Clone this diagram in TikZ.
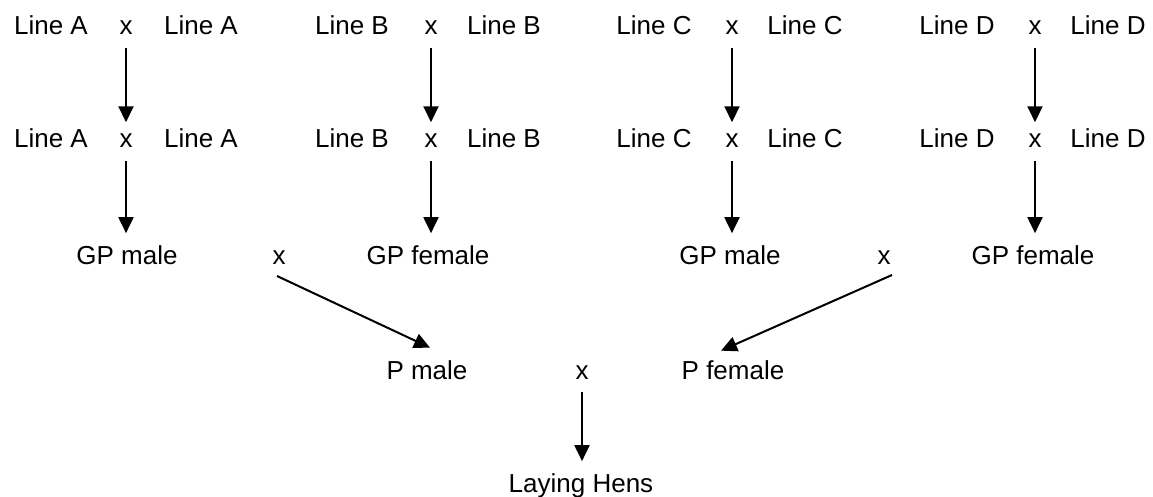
\documentclass[tikz,border=0pt]{standalone}
\usepackage{fontspec}
\setmainfont{Liberation Sans}
\usetikzlibrary{arrows.meta,calc}
\begin{document}
\begin{tikzpicture}[x=1pt,y=-1pt,
  lbl/.style={anchor=base,inner sep=0pt,outer sep=0pt,
              font=\fontsize{26pt}{30pt}\selectfont},
  arr/.style={line width=2pt,-{Triangle[length=16pt,width=15pt]}},
  varr/.style={arr,shorten <=13pt,shorten >=12pt}]
\useasboundingbox (0,0) rectangle (1153,497);

% pure lines, first generation
\node[lbl] (a1l) at (51,35)   {Line A};
\node[lbl] (a1x) at (126,35)  {x};
\node[lbl] (a1r) at (201,35)  {Line A};
\node[lbl] (b1l) at (352,35)  {Line B};
\node[lbl] (b1x) at (431,35)  {x};
\node[lbl] (b1r) at (504,35)  {Line B};
\node[lbl] (c1l) at (654,35)  {Line C};
\node[lbl] (c1x) at (732,35)  {x};
\node[lbl] (c1r) at (805,35)  {Line C};
\node[lbl] (d1l) at (957,35)  {Line D};
\node[lbl] (d1x) at (1035,35) {x};
\node[lbl] (d1r) at (1108,35) {Line D};

% pure lines, next generation
\node[lbl] (a2l) at (51,148)   {Line A};
\node[lbl] (a2x) at (126,148)  {x};
\node[lbl] (a2r) at (201,148)  {Line A};
\node[lbl] (b2l) at (352,148)  {Line B};
\node[lbl] (b2x) at (431,148)  {x};
\node[lbl] (b2r) at (504,148)  {Line B};
\node[lbl] (c2l) at (654,148)  {Line C};
\node[lbl] (c2x) at (732,148)  {x};
\node[lbl] (c2r) at (805,148)  {Line C};
\node[lbl] (d2l) at (957,148)  {Line D};
\node[lbl] (d2x) at (1035,148) {x};
\node[lbl] (d2r) at (1108,148) {Line D};

% grandparents
\node[lbl] (gpm1) at (127,264)  {GP male};
\node[lbl] (gx1)  at (279,264)  {x};
\node[lbl] (gpf1) at (428,264)  {GP female};
\node[lbl] (gpm2) at (730,264)  {GP male};
\node[lbl] (gx2)  at (884,264)  {x};
\node[lbl] (gpf2) at (1033,264) {GP female};

% parents
\node[lbl] (pm) at (427,379) {P male};
\node[lbl] (px) at (582,379) {x};
\node[lbl] (pf) at (733,379) {P female};

% commercial layers
\node[lbl] (lh) at (581,492) {Laying Hens};

% generation to generation
\foreach \s/\t in {a1x/a2x,b1x/b2x,c1x/c2x,d1x/d2x}
  \draw[varr] (\s.south) -- (\t.north);
\draw[varr] (a2x.south) -- (a2x.south |- gpm1.north);
\draw[varr] (b2x.south) -- (b2x.south |- gpf1.north);
\draw[varr] (c2x.south) -- (c2x.south |- gpm2.north);
\draw[varr] (d2x.south) -- (d2x.south |- gpf2.north);

% grandparent crosses to parents
\draw[arr] ($(gx1.south)+(-2,12)$) -- ($(pm.north)+(3,-12.5)$);
\draw[arr] ($(gx2.south)+(8,11)$) -- ($(pf.north)+(-12,-9.5)$);

% parent cross to laying hens
\draw[varr] (px.south) -- (px.south |- lh.north);
\end{tikzpicture}
\end{document}
